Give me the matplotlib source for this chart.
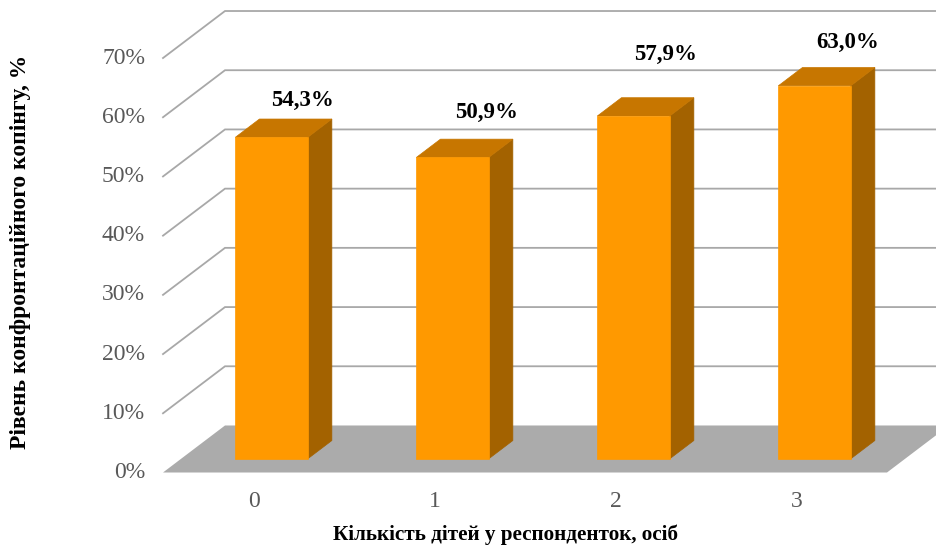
import matplotlib
matplotlib.use("Agg")
import matplotlib.pyplot as plt
from matplotlib.patches import Polygon

# дані
categories = ["0", "1", "2", "3"]
values = [54.3, 50.9, 57.9, 63.0]
value_labels = ["54,3%", "50,9%", "57,9%", "63,0%"]
yticks = [0, 10, 20, 30, 40, 50, 60, 70]

# зміщення підписів (пікселі), як їх розставлено вручну в оригіналі
label_dx = [31, 34, 32, 33]
label_dy = [37, 45, 62, 43]

plt.rcParams['font.family'] = ['Liberation Serif', 'DejaVu Serif']

# псевдо-3D: глибина z від 0 (перед) до 1 (задня стінка)
DX = 0.3425   # у одиницях категорій
DY = 7.94     # у відсотках
Z0, Z1 = 0.29, 0.68
BW = 0.2      # половина ширини стовпчика

def p(x, y, z):
    return (x + z * DX, y + z * DY)

fig = plt.figure(figsize=(9.36, 5.49), dpi=100)
ax = fig.add_axes([0, 0, 1, 1])
ax.set_xlim(-1.4006, 3.7707)
ax.set_ylim(-12.92, 79.80)
ax.axis('off')

n = len(categories)
x0, x1 = -0.5, n - 0.5
grid_c = '#A8A8A8'

# підлога
floor = Polygon([p(x0, 0, 0), p(x1, 0, 0), p(x1, 0, 1), p(x0, 0, 1)],
                closed=True, facecolor='#ABABAB', edgecolor='none', zorder=1)
ax.add_patch(floor)

# сітка: задня стінка + бічна стінка
for v in yticks[1:]:
    a, b = p(x0, v, 0), p(x0, v, 1)
    c = p(x1, v, 1)
    ax.plot([a[0], b[0], c[0]], [a[1], b[1], c[1]], color=grid_c, lw=1.3,
            zorder=2, solid_joinstyle='miter')

# стовпчики
front_c, top_c, side_c = '#FF9900', '#C77600', '#A36200'
for i, v in enumerate(values):
    front = [p(i - BW, 0, Z0), p(i + BW, 0, Z0), p(i + BW, v, Z0), p(i - BW, v, Z0)]
    top = [p(i - BW, v, Z0), p(i + BW, v, Z0), p(i + BW, v, Z1), p(i - BW, v, Z1)]
    side = [p(i + BW, 0, Z0), p(i + BW, v, Z0), p(i + BW, v, Z1), p(i + BW, 0, Z1)]
    for pts, col in [(side, side_c), (top, top_c), (front, front_c)]:
        ax.add_patch(Polygon(pts, closed=True, facecolor=col, edgecolor=col,
                             lw=0.5, zorder=3))
    ax.annotate(value_labels[i], xy=p(i, v, Z0), xytext=(label_dx[i], label_dy[i]),
                textcoords='offset pixels', ha='center', va='center',
                fontsize=16.5, fontweight='bold', color='black', zorder=5)

# підписи осей
for v in yticks:
    ax.annotate(f"{v}%", xy=(x0, v), xytext=(-18, 0), textcoords='offset pixels',
                ha='right', va='center', fontsize=17, color='#595959')
for i, c in enumerate(categories):
    ax.annotate(c, xy=(i, 0), xytext=(0, -29), textcoords='offset pixels',
                ha='center', va='center', fontsize=17, color='#595959')

fig.text(506 / 936, 1 - 535 / 549, "Кількість дітей у респонденток, осіб",
         ha='center', va='center', fontsize=15.2, fontweight='bold')
fig.text(21 / 936, 1 - 252 / 549, "Рівень конфронтаційного копінгу, %",
         ha='center', va='center', rotation=90, fontsize=16.9, fontweight='bold')

fig.savefig("out.png", dpi=100)
